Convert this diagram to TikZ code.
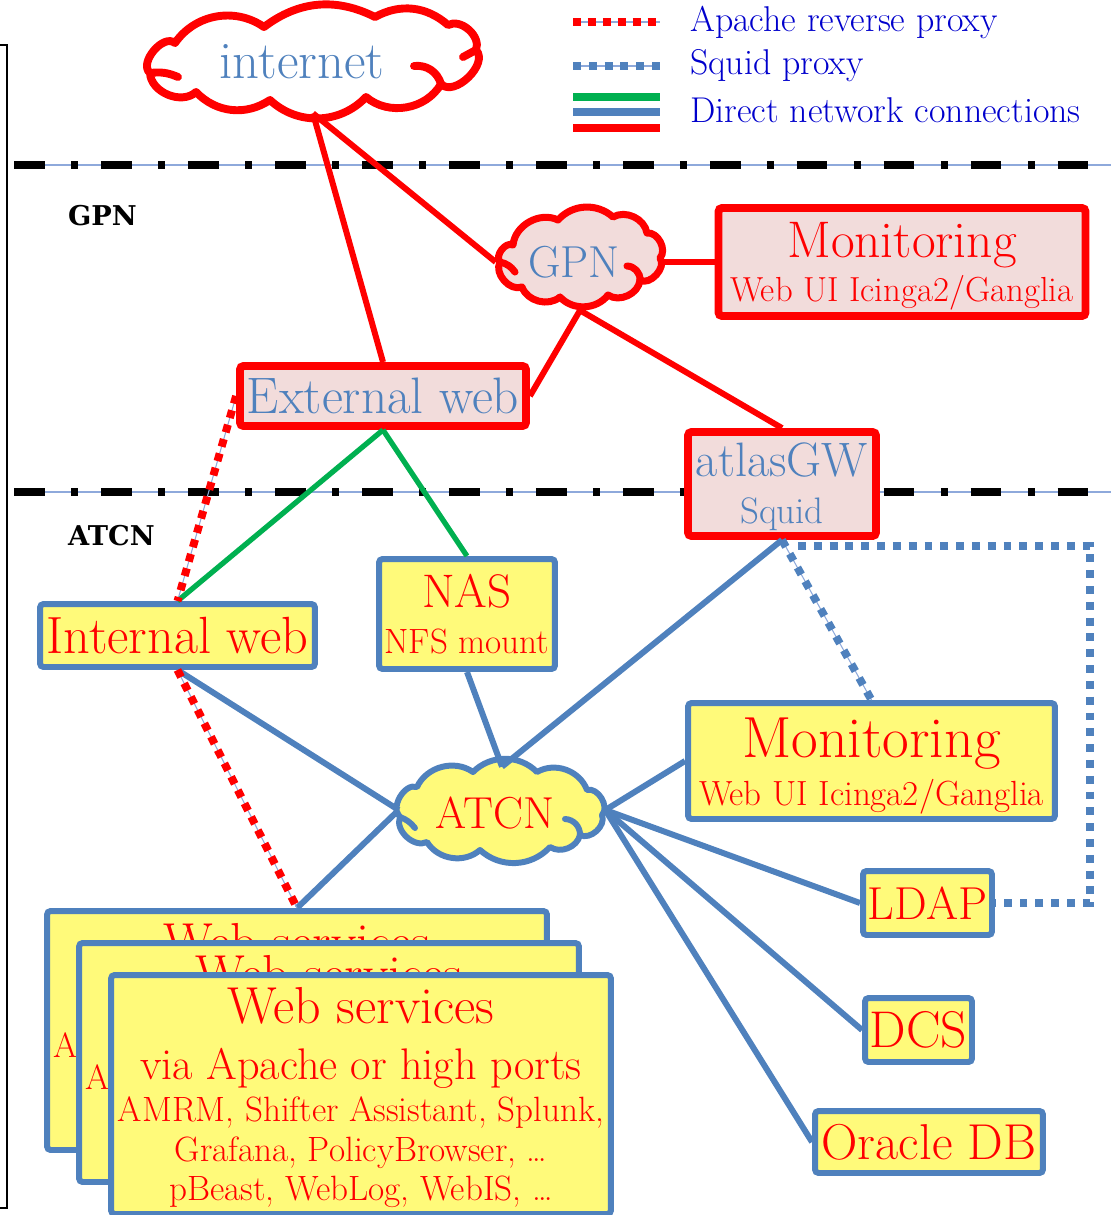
\documentclass[tikz,border=0pt]{standalone}
\usepackage{fontspec}
\usetikzlibrary{shapes.geometric}
\newfontfamily\zonefont{DejaVu Serif}

\definecolor{netred}{RGB}{255,0,0}
\definecolor{netblue}{RGB}{79,129,189}
\definecolor{pinkfill}{RGB}{242,220,219}
\definecolor{yellowfill}{RGB}{255,250,122}
\definecolor{netgreen}{RGB}{0,176,80}
\definecolor{legendblue}{RGB}{0,0,204}
\definecolor{thinblue}{RGB}{142,169,219}

\newcommand\fsz[1]{\fontsize{#1}{#1}\selectfont}

\tikzset{
  gpnbox/.style={draw=netred, fill=pinkfill, line width=4.5pt, rounded corners=2pt, inner sep=0pt, align=center},
  atcnbox/.style={draw=netblue, fill=yellowfill, line width=3.4pt, rounded corners=2pt, inner sep=0pt, align=center, text=netred},
  cloudanchor/.style={ellipse, inner sep=0pt},
  cloudline/.style={line join=round, line cap=round},
  redlink/.style={draw=netred, line width=3.4pt},
  bluelink/.style={draw=netblue, line width=3.4pt},
  greenlink/.style={draw=netgreen, line width=3pt},
  apache/.style={draw=netred, line width=4.5pt, dash pattern=on 4.5pt off 4pt, preaction={draw=thinblue, line width=0.6pt, solid}},
  squid/.style={draw=netblue, line width=4.5pt, dash pattern=on 4.5pt off 4.5pt, preaction={draw=thinblue, line width=0.6pt, solid}},
  squidplain/.style={draw=netblue, line width=4.5pt, dash pattern=on 4.5pt off 4.5pt},
  sepline/.style={draw=black, line width=5pt, dash pattern=on 17.5pt off 15pt on 4pt off 13pt, preaction={draw=thinblue, line width=0.8pt, solid}},
  zonelabel/.style={anchor=west, font=\zonefont\bfseries\fsz{15.5}},
  legendtext/.style={anchor=west, text=legendblue, font=\fsz{20.4}},
}

\begin{document}
\begin{tikzpicture}[x=0.02cm, y=-0.02cm]
\useasboundingbox (0,0) rectangle (1111,1215);

% frame edge and zone separators
\draw[line width=1.1pt] (0,45) -- (7,45) -- (7,1208) -- (0,1208);
\draw[sepline] (14,165) -- (1111,165);
\draw[sepline] (14,492) -- (1111,492);
\node[zonelabel] (gpnlabel) at (62,216) {GPN};
\node[zonelabel] (atcnlabel) at (62,536) {ATCN};

% legend
\draw[apache] (573,22) -- (660,22);
\draw[squid] (573,66) -- (660,66);
\draw[greenlink, line width=4pt] (573,97) -- (660,97);
\draw[bluelink, line width=4pt] (573,112) -- (660,112);
\draw[redlink, line width=4pt] (573,128) -- (660,128);
\node[legendtext] (lgapache) at (684,22) {Apache reverse proxy};
\node[legendtext] (lgsquid) at (684,66) {Squid proxy};
\node[legendtext] (lgdirect) at (684,110) {Direct network connections};

% clouds
\filldraw[cloudline, draw=netred, fill=white, line width=4.5pt]
  (175,43) to[bend left=45] (264,27) to[bend left=32] (375,17) to[bend left=35] (448,25)
  to[bend left=70] (476,50) to[bend left=90] (441,84) to[bend left=50] (366,97)
  to[bend left=45] (270,100) to[bend left=40] (196,92) to[bend left=65] (150,73)
  to[bend left=90] (175,43) -- cycle;
\draw[cloudline, netred, line width=4.5pt] (150,73) to[bend left=15] (178,77);
\draw[cloudline, netred, line width=4.5pt] (414,66) to[bend left=40] (441,84);
\draw[cloudline, netred, line width=4.5pt] (463,57) -- (476,50);
\node[cloudanchor, minimum width=6.9cm, minimum height=2cm] (internet) at (313,63) {};
\node[text=netblue, font=\fsz{30}] (internettext) at (302,62) {internet};

\filldraw[cloudline, draw=netred, fill=pinkfill, line width=4pt]
  (513,245) to[bend left=55] (558,220) to[bend left=45] (613,217) to[bend left=55] (647,233)
  to[bend left=70] (660,258) to[bend left=80] (640,280) to[bend left=60] (608,295)
  to[bend left=50] (560,297) to[bend left=55] (522,287) to[bend left=70] (500,262)
  to[bend left=80] (513,245) -- cycle;
\draw[cloudline, netred, line width=4pt] (500,262) to[bend left=20] (515,272);
\draw[cloudline, netred, line width=4pt] (627,266) to[bend left=45] (640,280);
\node[cloudanchor, minimum width=3.36cm, minimum height=1.92cm] (gpn) at (580,262) {};
\node[text=netblue, font=\fsz{25.5}] (gpntext) at (574,262) {GPN};

\filldraw[cloudline, draw=netblue, fill=yellowfill, line width=3.4pt]
  (417,787) to[bend left=50] (473,772) to[bend left=45] (537,772) to[bend left=50] (587,790)
  to[bend left=75] (602,815) to[bend left=70] (580,835) to[bend left=55] (550,847)
  to[bend left=45] (480,850) to[bend left=50] (427,842) to[bend left=70] (400,817)
  to[bend left=80] (417,787) -- cycle;
\draw[cloudline, netblue, line width=3.4pt] (400,817) to[bend left=15] (415,828);
\draw[cloudline, netblue, line width=3.4pt] (565,819) to[bend left=45] (580,835);
\node[cloudanchor, minimum width=4.12cm, minimum height=1.72cm] (atcn) at (502,810) {};
\node[text=netred, font=\fsz{25.5}] (atcntext) at (495,813) {ATCN};

% GPN side
\node[gpnbox, text=netred, minimum width=7.34cm, minimum height=2.16cm, font=\fsz{19.8}] (mongpn) at (902,262)
  {{\fsz{29.3}\rule{0pt}{25pt}Monitoring}\\[3pt]Web UI Icinga2/Ganglia};
\node[gpnbox, text=netblue, minimum width=5.72cm, minimum height=1.2cm, font=\fsz{29.2}] (extweb) at (383,396) {External web};
\node[gpnbox, text=netblue, minimum width=3.76cm, minimum height=2.08cm, font=\fsz{21}] (atlasgw) at (782,484)
  {{\fsz{27.5}\rule{0pt}{22.5pt}atlasGW}\\[6pt]Squid};

% ATCN side
\node[atcnbox, minimum width=5.5cm, minimum height=1.26cm, font=\fsz{29.8}] (intweb) at (177.5,635.5) {Internal web};
\node[atcnbox, minimum width=3.52cm, minimum height=2.2cm, font=\fsz{20}] (nas) at (467,614)
  {{\fsz{26.8}NAS}\\[6pt]NFS mount};
\node[atcnbox, minimum width=7.34cm, minimum height=2.32cm, font=\fsz{19.9}] (monatcn) at (871.5,761)
  {{\fsz{33}\rule{0pt}{28.5pt}Monitoring}\\[5pt]Web UI Icinga2/Ganglia};
\node[atcnbox, minimum width=2.58cm, minimum height=1.28cm, font=\fsz{26.3}] (ldap) at (927.5,903) {LDAP};
\node[atcnbox, minimum width=2.14cm, minimum height=1.28cm, font=\fsz{29.4}] (dcs) at (918.5,1030) {DCS};
\node[atcnbox, minimum width=4.56cm, minimum height=1.24cm, font=\fsz{28.7}] (oracle) at (929,1142) {Oracle DB};
\foreach \i/\cx/\cy in {1/297/1030.5, 2/329/1062.5, 3/361/1094.5}
  \node[atcnbox, minimum width=10cm, minimum height=4.78cm, font=\fontsize{20}{22.6}\selectfont] (web\i) at (\cx,\cy)
    {{\fsz{29.6}\rule{0pt}{24.3pt}Web services}\\[9pt]{\fsz{25.2}via Apache or high ports}\\[1.5pt]
     AMRM, Shifter Assistant, Splunk,\\Grafana, PolicyBrowser, \dots\\pBeast, WebLog, WebIS, \dots};

% direct connections
\draw[redlink] (internet.south) -- (extweb.north);
\draw[redlink] (internet.south) -- (gpn.west);
\draw[redlink] (gpn.south) -- (extweb.east);
\draw[redlink] (gpn.south) -- (atlasgw.north);
\draw[redlink] (gpn.east) -- (mongpn.west);
\draw[greenlink] (extweb.south) -- (intweb.north);
\draw[greenlink] (extweb.south) -- (nas.north);
\draw[bluelink] (intweb.south) -- (atcn.west);
\draw[bluelink] (atcn.west) -- (web1.north);
\draw[bluelink] (nas.south) -- (atcn.north);
\draw[bluelink] (atlasgw.south) -- (atcn.north);
\draw[bluelink] (atcn.east) -- (monatcn.west);
\draw[bluelink] (atcn.east) -- (ldap.west);
\draw[bluelink] (atcn.east) -- (dcs.west);
\draw[bluelink] (atcn.east) -- (oracle.west);

% proxies
\draw[apache] (extweb.west) -- (intweb.north);
\draw[apache] (intweb.south) -- (web1.north);
\draw[squid] (atlasgw.south) -- (monatcn.north);
\coordinate (sqcorner) at (1090,903);
\draw[squidplain] ([shift={(16,6)}]atlasgw.south) -| (sqcorner) -- (ldap.east);
\end{tikzpicture}
\end{document}
